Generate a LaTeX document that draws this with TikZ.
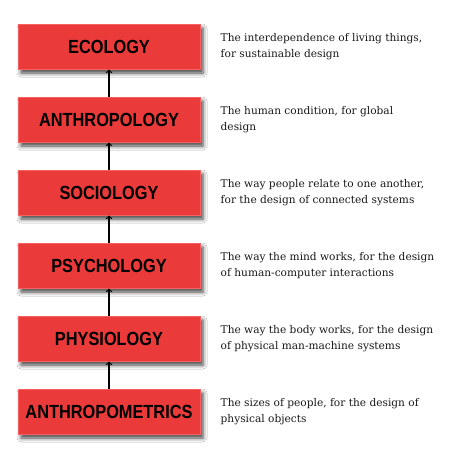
\documentclass[tikz,border=0pt]{standalone}
\usepackage{fontspec}
\setmainfont{DejaVu Serif}
\newfontfamily\fieldfont[FakeStretch=0.86]{Liberation Sans}
\usetikzlibrary{positioning,shadows.blur}

\definecolor{fieldred}{RGB}{234,58,58}
\definecolor{fieldedge}{RGB}{246,96,96}

\begin{document}
\begin{tikzpicture}[x=1pt,y=1pt,
	field/.style={rectangle,fill=fieldred,draw=fieldedge,line width=1,
		minimum width=182,minimum height=45,inner sep=0,
		font=\fieldfont\bfseries\fontsize{19}{19}\selectfont,
		blur shadow={shadow xshift=3pt,shadow yshift=-4pt,shadow blur radius=4pt,shadow opacity=75}},
	about/.style={align=left,inner sep=0,text=black!90,
		font=\fontsize{10.6}{16}\selectfont},
	node distance=27pt]

\path[use as bounding box,fill=white] (0,0) rectangle (468,-459);

\node[field] (ecology) at (109,-46.5) {ECOLOGY};
\node[field,below=of ecology] (anthro) {ANTHROPOLOGY};
\node[field,below=of anthro] (socio) {SOCIOLOGY};
\node[field,below=of socio] (psycho) {PSYCHOLOGY};
\node[field,below=of psycho] (physio) {PHYSIOLOGY};
\node[field,below=of physio] (metrics) {ANTHROPOMETRICS};

\node[about,right=20pt of ecology] (ecology-t) {The interdependence of living things,\\for sustainable design};
\node[about,right=20pt of anthro] (anthro-t) {The human condition, for global\\design};
\node[about,right=20pt of socio] (socio-t) {The way people relate to one another,\\for the design of connected systems};
\node[about,right=20pt of psycho] (psycho-t) {The way the mind works, for the design\\of human-computer interactions};
\node[about,right=20pt of physio] (physio-t) {The way the body works, for the design\\of physical man-machine systems};
\node[about,right=20pt of metrics] (metrics-t) {The sizes of people, for\ the design of\\physical objects};

\foreach \a/\b in {metrics/physio,physio/psycho,psycho/socio,socio/anthro,anthro/ecology}
	\draw[->,line width=1.3] (\a) -- (\b);

\end{tikzpicture}
\end{document}
